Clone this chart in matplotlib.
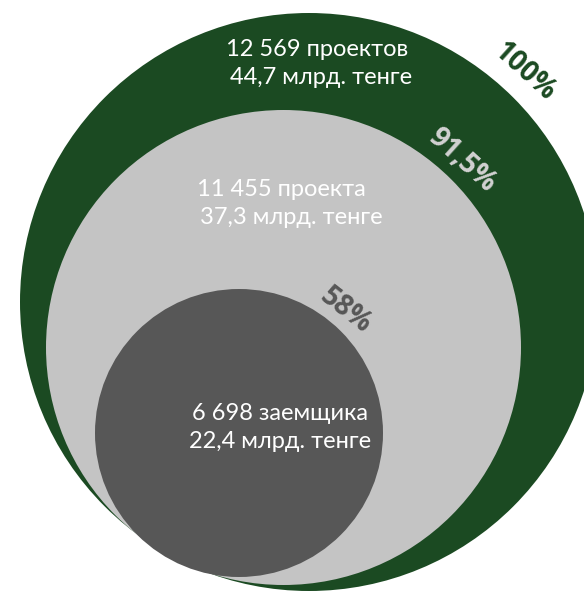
import matplotlib
matplotlib.use("Agg")
import matplotlib.pyplot as plt
from matplotlib.patches import Circle

plt.rcParams['font.family'] = ['Lato', 'DejaVu Sans']

# Data
shares = ["100%", "91,5%", "58%"]
line1 = ["12 569 проектов", "11 455 проекта", "6 698 заемщика"]
line2 = ["44,7 млрд. тенге", "37,3 млрд. тенге", "22,4 млрд. тенге"]

# Geometry (pixel space)
centers = [(309, 302), (283.5, 347.5), (239, 433)]
radii = [289, 237.5, 144]
colors = ["#1b4a22", "#c4c4c4", "#575757"]
pct_colors = ["#1b4a22", "#d2d2d2", "#575757"]
text_pos = [(317, 50, 321, 77), (281, 190, 291, 218), (280, 413, 280, 441)]
pct_pos = [(524, 72, -42), (462, 160, -42), (346, 311, -38)]

fig = plt.figure(figsize=(5.84, 5.92), dpi=100)
ax = fig.add_axes([0, 0, 1, 1])
ax.set_xlim(0, 584)
ax.set_ylim(592, 0)
ax.set_aspect('equal')
ax.axis('off')

for c, r, col in zip(centers, radii, colors):
    ax.add_patch(Circle(c, r, facecolor=col, edgecolor='none'))

for (x1, y1, x2, y2), t1, t2 in zip(text_pos, line1, line2):
    ax.text(x1, y1, t1, color='white', fontsize=17, ha='center', va='center')
    ax.text(x2, y2, t2, color='white', fontsize=17, ha='center', va='center')

for (x, y, rot), s, col in zip(pct_pos, shares, pct_colors):
    ax.text(x, y, s, color=col, fontsize=20, fontweight='bold', family=['Open Sans', 'DejaVu Sans'],
            ha='center', va='center', rotation=rot, rotation_mode='anchor')

fig.savefig("out.png", dpi=100)
